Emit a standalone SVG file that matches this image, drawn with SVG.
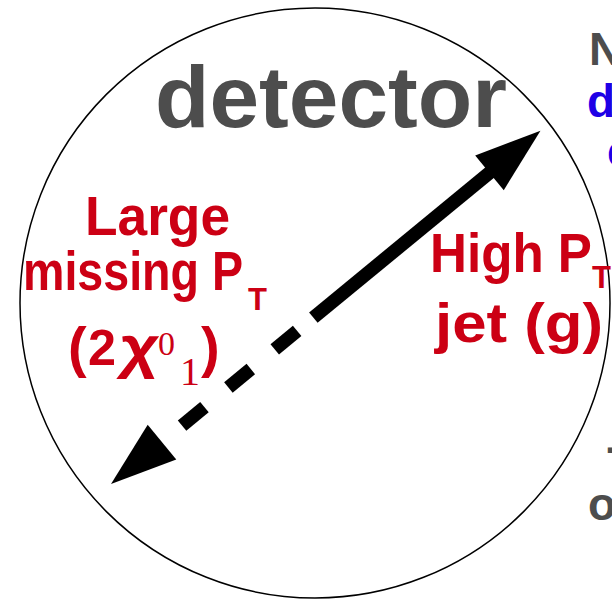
<svg xmlns="http://www.w3.org/2000/svg" width="612" height="599" viewBox="0 0 612 599">
<style>
.t{font-family:"Liberation Sans",Arial,sans-serif;font-weight:bold}
.red{fill:#cc0014}
.gray{fill:#4d4d4d}
.blue{fill:#1e00e6}
.ser{font-family:"Liberation Serif","Times New Roman",serif}
</style>
<rect width="612" height="599" fill="#ffffff"/>
<g id="detector">
<circle cx="315" cy="303" r="295" fill="none" stroke="#000" stroke-width="1.5"/>
<text class="t gray" x="155" y="127" font-size="88" textLength="352" lengthAdjust="spacingAndGlyphs">detector</text>
</g>
<g id="connectors">
<g transform="translate(111,484) rotate(-39.43)">
<polygon points="0,0 66,-22.5 66,22.5" fill="#000"/>
<rect x="92" y="-6.7" width="29" height="13.4" fill="#000"/>
<rect x="152" y="-6.7" width="29" height="13.4" fill="#000"/>
<rect x="212" y="-6.7" width="29" height="13.4" fill="#000"/>
<rect x="262" y="-6.7" width="230" height="13.4" fill="#000"/>
<polygon points="556,0 490,-22.5 490,22.5" fill="#000"/>
</g>
</g>
<g id="missing">
<text class="t red" x="85" y="235" font-size="56" textLength="145" lengthAdjust="spacingAndGlyphs">Large</text>
<text class="t red" x="23" y="290" font-size="56" textLength="220" lengthAdjust="spacingAndGlyphs">missing P</text>
<text class="t red" x="248" y="310" font-size="31">T</text>
<text class="t red" x="68" y="366" font-size="56">(</text>
<text class="t red" x="88" y="365" font-size="50" textLength="28" lengthAdjust="spacingAndGlyphs">2</text>
<text class="t red" x="118" y="367" font-size="58" textLength="39" lengthAdjust="spacingAndGlyphs" transform="skewX(-8) translate(51,0)">χ</text>
<text class="ser red" x="158" y="355" font-size="34">0</text>
<text class="ser red" x="180" y="385" font-size="40">1</text>
<text class="t red" x="201" y="366" font-size="56">)</text>
</g>
<g id="jet">
<text class="t red" x="430" y="272" font-size="56" textLength="162" lengthAdjust="spacingAndGlyphs">High P</text>
<text class="t red" x="592" y="288" font-size="31">T</text>
<text class="t red" x="435" y="342" font-size="56" textLength="168" lengthAdjust="spacingAndGlyphs">jet (g)</text>
</g>
<g id="edge-text">
<text class="t gray" x="589" y="65" font-size="46">N</text>
<text class="t blue" x="587" y="117" font-size="46">d</text>
<text class="t blue" x="607" y="167" font-size="46">c</text>
<text class="t gray" x="606" y="462" font-size="46">-</text>
<text class="t gray" x="588" y="520" font-size="46">o</text>
</g>
</svg>
